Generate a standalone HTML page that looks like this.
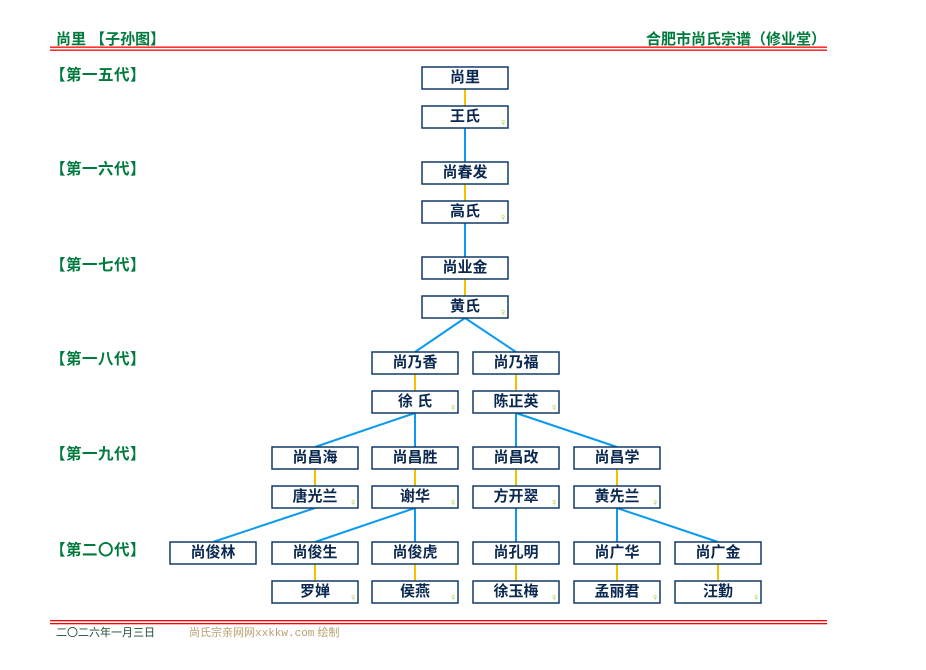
<!DOCTYPE html>
<html><head><meta charset="utf-8"><style>
html,body{margin:0;padding:0;background:#fff;}
svg{display:block;}
text{font-family:"Liberation Sans","Noto Sans CJK SC",sans-serif;}
.g{fill:#007a3d;font-weight:bold;font-size:15px;}
.gl{fill:#007a3d;font-weight:bold;font-size:15.5px;letter-spacing:0.5px;}
.n{fill:#0a2850;font-weight:bold;font-size:15px;text-anchor:middle;}
.f{fill:#b8a070;font-size:11px;}
.m{fill:#9acd32;font-size:11px;font-family:"DejaVu Sans",sans-serif;}
</style></head><body>
<svg width="926" height="670" viewBox="0 0 926 670" xmlns="http://www.w3.org/2000/svg">
<text class="g" x="56" y="44">尚里 【子孙图】</text>
<text class="g" x="826" y="44" text-anchor="end">合肥市尚氏宗谱（修业堂）</text>
<rect x="50" y="46.5" width="777" height="1.3" fill="#f00"/>
<rect x="50" y="49.5" width="777" height="1.3" fill="#f00"/>
<rect x="50" y="620" width="777" height="1.3" fill="#f00"/>
<rect x="50" y="623" width="777" height="1.3" fill="#f00"/>
<text x="56" y="636" style="font-size:11px;fill:#1a4a30">二〇二六年一月三日</text>
<text x="189" y="636" class="f">尚氏宗亲网网<tspan style="font-family:'Liberation Mono',monospace">xxkkw.com</tspan> 绘制</text>
<g class="gl">
<text x="50" y="80">【第一五代】</text>
<text x="50" y="174">【第一六代】</text>
<text x="50" y="270">【第一七代】</text>
<text x="50" y="364">【第一八代】</text>
<text x="50" y="459">【第一九代】</text>
<text x="50" y="555">【第二〇代】</text>
</g>
<g stroke-width="2" fill="none">
<g stroke="#f5c000">
<line x1="465" y1="89" x2="465" y2="106"/>
<line x1="465" y1="184" x2="465" y2="201"/>
<line x1="465" y1="279" x2="465" y2="296"/>
<line x1="415" y1="374" x2="415" y2="391"/>
<line x1="516" y1="374" x2="516" y2="391"/>
<line x1="315" y1="469" x2="315" y2="486"/>
<line x1="415" y1="469" x2="415" y2="486"/>
<line x1="516" y1="469" x2="516" y2="486"/>
<line x1="617" y1="469" x2="617" y2="486"/>
<line x1="315" y1="564" x2="315" y2="581"/>
<line x1="415" y1="564" x2="415" y2="581"/>
<line x1="516" y1="564" x2="516" y2="581"/>
<line x1="617" y1="564" x2="617" y2="581"/>
<line x1="718" y1="564" x2="718" y2="581"/>
</g>
<g stroke="#0a9af0">
<line x1="465" y1="128" x2="465" y2="162"/>
<line x1="465" y1="223" x2="465" y2="257"/>
<line x1="465" y1="318" x2="415" y2="352"/>
<line x1="465" y1="318" x2="516" y2="352"/>
<line x1="415" y1="413" x2="315" y2="447"/>
<line x1="415" y1="413" x2="415" y2="447"/>
<line x1="516" y1="413" x2="516" y2="447"/>
<line x1="516" y1="413" x2="617" y2="447"/>
<line x1="315" y1="508" x2="213" y2="542"/>
<line x1="415" y1="508" x2="315" y2="542"/>
<line x1="415" y1="508" x2="415" y2="542"/>
<line x1="516" y1="508" x2="516" y2="542"/>
<line x1="617" y1="508" x2="617" y2="542"/>
<line x1="617" y1="508" x2="718" y2="542"/>
</g>
</g>
<g fill="#fff" stroke="#123a66" stroke-width="1.5">
<rect x="422" y="67" width="86" height="22"/>
<rect x="422" y="106" width="86" height="22"/>
<rect x="422" y="162" width="86" height="22"/>
<rect x="422" y="201" width="86" height="22"/>
<rect x="422" y="257" width="86" height="22"/>
<rect x="422" y="296" width="86" height="22"/>
<rect x="372" y="352" width="86" height="22"/>
<rect x="473" y="352" width="86" height="22"/>
<rect x="372" y="391" width="86" height="22"/>
<rect x="473" y="391" width="86" height="22"/>
<rect x="272" y="447" width="86" height="22"/>
<rect x="372" y="447" width="86" height="22"/>
<rect x="473" y="447" width="86" height="22"/>
<rect x="574" y="447" width="86" height="22"/>
<rect x="272" y="486" width="86" height="22"/>
<rect x="372" y="486" width="86" height="22"/>
<rect x="473" y="486" width="86" height="22"/>
<rect x="574" y="486" width="86" height="22"/>
<rect x="170" y="542" width="86" height="22"/>
<rect x="272" y="542" width="86" height="22"/>
<rect x="372" y="542" width="86" height="22"/>
<rect x="473" y="542" width="86" height="22"/>
<rect x="574" y="542" width="86" height="22"/>
<rect x="675" y="542" width="86" height="22"/>
<rect x="272" y="581" width="86" height="22"/>
<rect x="372" y="581" width="86" height="22"/>
<rect x="473" y="581" width="86" height="22"/>
<rect x="574" y="581" width="86" height="22"/>
<rect x="675" y="581" width="86" height="22"/>
</g>
<g class="n">
<text x="465" y="82">尚里</text>
<text x="465" y="121">王氏</text>
<text x="465" y="177">尚春发</text>
<text x="465" y="216">高氏</text>
<text x="465" y="272">尚业金</text>
<text x="465" y="311">黄氏</text>
<text x="415" y="367">尚乃香</text>
<text x="516" y="367">尚乃福</text>
<text x="415" y="406">徐 氏</text>
<text x="516" y="406">陈正英</text>
<text x="315" y="462">尚昌海</text>
<text x="415" y="462">尚昌胜</text>
<text x="516" y="462">尚昌改</text>
<text x="617" y="462">尚昌学</text>
<text x="315" y="501">唐光兰</text>
<text x="415" y="501">谢华</text>
<text x="516" y="501">方开翠</text>
<text x="617" y="501">黄先兰</text>
<text x="213" y="557">尚俊林</text>
<text x="315" y="557">尚俊生</text>
<text x="415" y="557">尚俊虎</text>
<text x="516" y="557">尚孔明</text>
<text x="617" y="557">尚广华</text>
<text x="718" y="557">尚广金</text>
<text x="315" y="596">罗婵</text>
<text x="415" y="596">侯燕</text>
<text x="516" y="596">徐玉梅</text>
<text x="617" y="596">孟丽君</text>
<text x="718" y="596">汪勤</text>
</g>
<g class="m">
<text x="499" y="126">♀</text>
<text x="499" y="221">♀</text>
<text x="499" y="316">♀</text>
<text x="449" y="411">♀</text>
<text x="550" y="411">♀</text>
<text x="349" y="506">♀</text>
<text x="449" y="506">♀</text>
<text x="550" y="506">♀</text>
<text x="651" y="506">♀</text>
<text x="349" y="601">♀</text>
<text x="449" y="601">♀</text>
<text x="550" y="601">♀</text>
<text x="651" y="601">♀</text>
<text x="752" y="601">♀</text>
</g>
</svg>
</body></html>
